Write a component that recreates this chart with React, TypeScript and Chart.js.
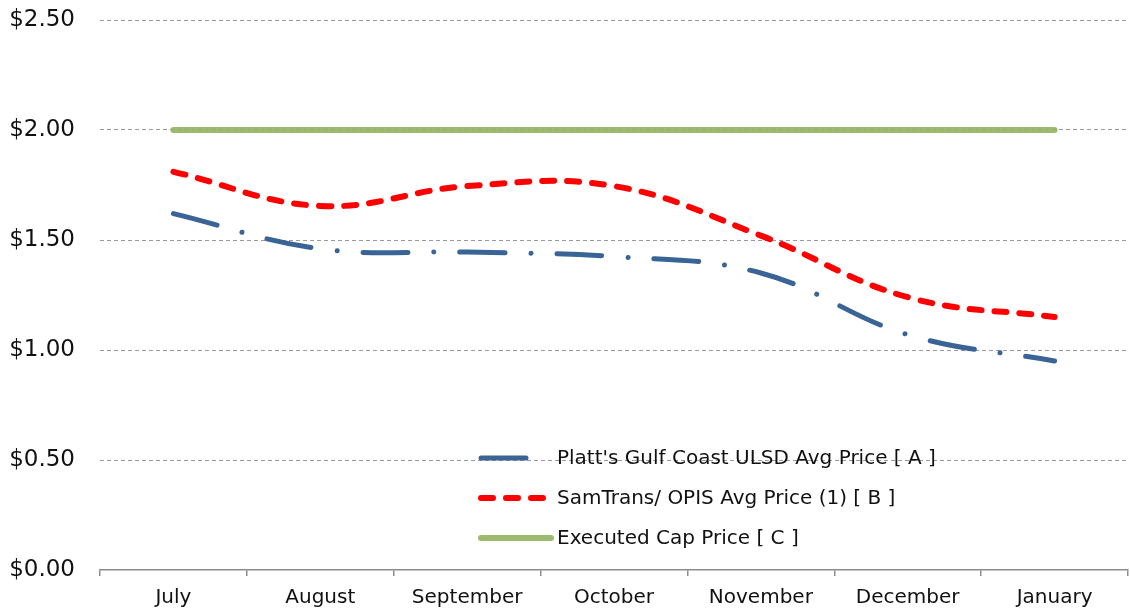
import React, { useEffect, useRef } from "react";
import { Chart, registerables } from "chart.js";

Chart.register(...registerables);

const months = ["July", "August", "September", "October", "November", "December", "January"];
const plattsPrice = [1.62, 1.46, 1.445, 1.425, 1.35, 1.07, 0.95];
const samtransPrice = [1.81, 1.655, 1.745, 1.745, 1.52, 1.24, 1.15];
const capPrice = [2.0, 2.0, 2.0, 2.0, 2.0, 2.0, 2.0];
const yTicks = [0, 0.5, 1.0, 1.5, 2.0, 2.5];

const FONT = "'DejaVu Sans', sans-serif";

const insideLegend = {
  id: "insideLegend",
  afterDatasetsDraw(chart: any) {
    const ctx = chart.ctx;
    const x0 = 481;
    const rows = [458, 498, 538];
    chart.data.datasets.forEach((ds: any, i: number) => {
      const y = rows[i];
      ctx.save();
      ctx.beginPath();
      ctx.strokeStyle = ds.borderColor;
      ctx.lineWidth = ds.borderWidth;
      ctx.lineCap = "round";
      ctx.setLineDash(ds.borderDash || []);
      ctx.moveTo(x0, y);
      ctx.lineTo(x0 + 70, y);
      ctx.stroke();
      ctx.restore();
      ctx.save();
      ctx.fillStyle = "#111";
      ctx.font = `20px ${FONT}`;
      ctx.textBaseline = "middle";
      ctx.textAlign = "left";
      ctx.fillText(ds.label, x0 + 76, y + 1);
      ctx.restore();
    });
  },
};

export default function App() {
  const ref = useRef<HTMLCanvasElement>(null);
  useEffect(() => {
    if (!ref.current) return;
    const chart = new Chart(ref.current, {
      type: "line",
      data: {
        labels: months,
        datasets: [
          {
            label: "Platt's Gulf Coast ULSD Avg Price [ A ]",
            data: plattsPrice,
            borderColor: "#3A6396",
            borderWidth: 5,
            borderDash: [45, 26, 0.01, 26],
            borderCapStyle: "round",
            tension: 0.4,
            pointRadius: 0,
            fill: false,
          },
          {
            label: "SamTrans/ OPIS Avg Price (1) [ B ]",
            data: samtransPrice,
            borderColor: "#FF0000",
            borderWidth: 6,
            borderDash: [12, 13],
            borderCapStyle: "round",
            tension: 0.4,
            pointRadius: 0,
            fill: false,
          },
          {
            label: "Executed Cap Price [ C ]",
            data: capPrice,
            borderColor: "rgba(148,178,98,0.9)",
            borderWidth: 6,
            borderCapStyle: "round",
            tension: 0,
            pointRadius: 0,
            fill: false,
          },
        ],
      },
      options: {
        animation: false,
        responsive: false,
        maintainAspectRatio: false,
        layout: { padding: { top: 20, right: 2, left: 0, bottom: 0 } },
        plugins: { legend: { display: false }, tooltip: { enabled: false } },
        scales: {
          x: {
            type: "category",
            offset: true,
            afterFit: (s: any) => {
              s.height = 42;
            },
            grid: {
              offset: true,
              drawOnChartArea: false,
              drawTicks: true,
              tickLength: 6,
              color: "#8c8c8c",
              lineWidth: 1.5,
            },
            border: { display: true, color: "#8c8c8c", width: 1.5 },
            ticks: {
              color: "#111",
              font: { family: FONT, size: 20 },
              padding: 10,
              maxRotation: 0,
            },
          },
          y: {
            min: 0,
            max: 2.5,
            afterFit: (s: any) => {
              s.width = 100;
              s.paddingTop = 0;
              s.paddingBottom = 0;
            },
            afterBuildTicks: (s: any) => {
              s.ticks = yTicks.map((v) => ({ value: v }));
            },
            grid: {
              color: (c: any) => (c.tick && c.tick.value === 0 ? "rgba(0,0,0,0)" : "#9a9a9a"),
              lineWidth: 1,
              drawTicks: false,
            },
            border: { display: false, dash: [4, 3] },
            ticks: {
              color: "#111",
              font: { family: FONT, size: 23 },
              padding: 25,
              callback: (v: any) => "$" + Number(v).toFixed(2),
            },
          },
        },
      },
      plugins: [insideLegend],
    } as any);
    return () => chart.destroy();
  }, []);
  return (
    <div style={{ position: "fixed", left: 0, top: 0, width: 1130, height: 612, background: "#fff" }}>
      <canvas ref={ref} width={1130} height={612} style={{ width: 1130, height: 612 }} />
    </div>
  );
}
